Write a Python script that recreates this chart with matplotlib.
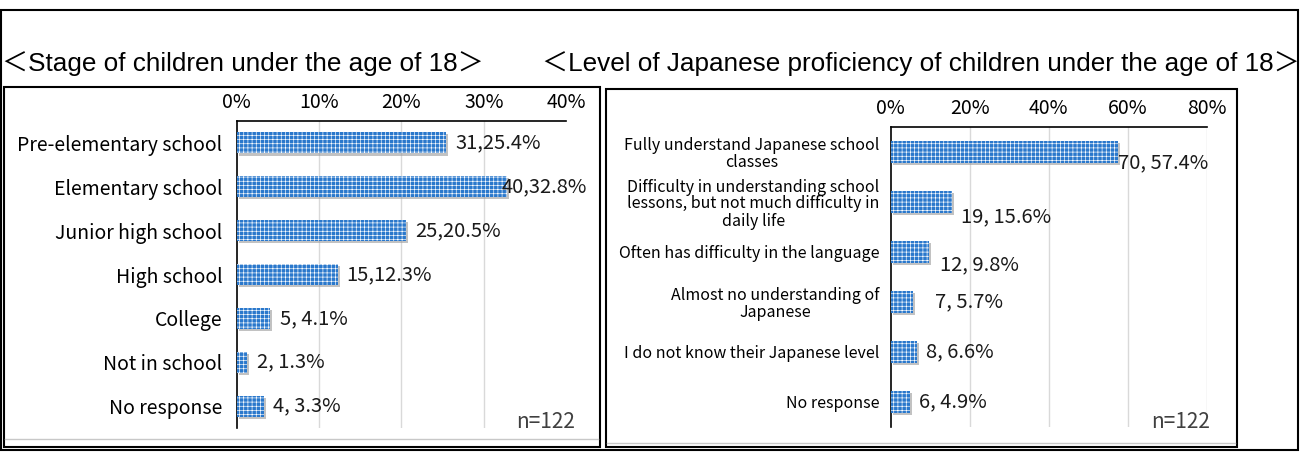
import matplotlib
matplotlib.use('Agg')
import matplotlib.pyplot as plt
from matplotlib.patches import Rectangle
from matplotlib.lines import Line2D
from matplotlib.transforms import offset_copy

plt.rcParams['font.family'] = ['Noto Sans CJK JP', 'DejaVu Sans']
plt.rcParams['hatch.color'] = 'white'
plt.rcParams['hatch.linewidth'] = 0.45

# data
stage_cats = ['Pre-elementary school', 'Elementary school', 'Junior high school',
              'High school', 'College', 'Not in school', 'No response']
stage_counts = [31, 40, 25, 15, 5, 2, 4]
stage_pct = [25.4, 32.8, 20.5, 12.3, 4.1, 1.3, 3.3]
stage_ticks = [0, 10, 20, 30, 40]

level_cats = ['Fully understand Japanese school\nclasses',
              'Difficulty in understanding school\nlessons, but not much difficulty in\ndaily life',
              'Often has difficulty in the language',
              'Almost no understanding of\nJapanese',
              'I do not know their Japanese level',
              'No response']
level_counts = [70, 19, 12, 7, 8, 6]
level_pct = [57.4, 15.6, 9.8, 5.7, 6.6, 4.9]
level_ticks = [0, 20, 40, 60, 80]

n_text = 'n=122'
title_left = '＜Stage of children under the age of 18＞'
title_right = '＜Level of Japanese proficiency of children under the age of 18＞'

# label nudges (points), as placed in the original
stage_dx = [7, -4, 7, 6, 7, 7, 7]
level_dx = [0, 6, 8, 16, 6.5, 6.5]
level_dy = [-8, -11, -9, 0, 0, 0]

W, H = 1303, 453
fig = plt.figure(figsize=(W / 100, H / 100), dpi=100)

def fx(x):
    return x / W

def fy(y):
    return 1 - y / H

def add_box(x0, y0, x1, y1, lw=1.5, color='black'):
    fig.patches.append(Rectangle((fx(x0), fy(y1)), fx(x1) - fx(x0), fy(y0) - fy(y1),
                                 transform=fig.transFigure, fill=False, lw=lw,
                                 edgecolor=color, zorder=0))

# frames
add_box(1, 10, 1298, 450)
add_box(4, 87, 600, 447)
add_box(606, 89, 1237, 447)
fig.lines.append(Line2D([fx(5), fx(598)], [fy(439), fy(439)], transform=fig.transFigure,
                        color='#c8c8c8', lw=1))
fig.lines.append(Line2D([fx(607), fx(1235)], [fy(443), fy(443)], transform=fig.transFigure,
                        color='#c8c8c8', lw=1))

tfam = ['Liberation Sans Narrow', 'Liberation Sans', 'Noto Sans CJK JP']
fig.text(fx(2), fy(64), title_left, fontsize=18.8, family=tfam, ha='left', va='center')
fig.text(fx(1300), fy(64), title_right, fontsize=18.8, family=tfam, ha='right', va='center')


def draw_bars(ax, cats, counts, pct, ticks, grid_ticks, height, fmt, dx, dy, cat_size, pad):
    y = list(range(len(cats)))
    shadow = offset_copy(ax.transData, fig=fig, x=1.5, y=-1.5, units='points')
    ax.barh(y, pct, height=height, color='#9a9a9a', alpha=0.6, transform=shadow, zorder=2)
    ax.barh(y, pct, height=height, color='#2a78cc', hatch='++++', edgecolor='white',
            linewidth=0, zorder=3)
    for i in y:
        ax.annotate(fmt.format(counts[i], pct[i]), xy=(pct[i], i), xytext=(dx[i], dy[i]),
                    textcoords='offset points', va='center', ha='left', fontsize=14.5,
                    color='#1a1a1a', zorder=4)
    for t in grid_ticks:
        ax.axvline(t, color='#d9d9d9', lw=1, zorder=1)
    ax.set_xlim(ticks[0], ticks[-1])
    ax.set_ylim(len(cats) - 0.5, -0.5)
    ax.xaxis.tick_top()
    ax.set_xticks(ticks)
    ax.set_xticklabels([f'{t}%' for t in ticks], fontsize=14)
    ax.set_yticks(y)
    ax.set_yticklabels(cats, fontsize=cat_size)
    for lab in ax.get_yticklabels():
        lab.set_multialignment('center')
        lab.set_linespacing(1.0)
    ax.tick_params(axis='both', length=0)
    ax.tick_params(axis='x', pad=6)
    ax.tick_params(axis='y', pad=pad)
    for s in ['right', 'bottom']:
        ax.spines[s].set_visible(False)
    ax.spines['top'].set_linewidth(1.2)
    ax.spines['left'].set_linewidth(1.2)


ax1 = fig.add_axes([fx(236.5), fy(428), fx(566.4) - fx(236.5), fy(121) - fy(428)])
draw_bars(ax1, stage_cats, stage_counts, stage_pct, stage_ticks, [10, 20, 30], 0.48,
          '{},{:4.1f}%', stage_dx, [0] * len(stage_cats), 14, 10)

ax2 = fig.add_axes([fx(890.5), fy(427), fx(1207) - fx(890.5), fy(127) - fy(427)])
draw_bars(ax2, level_cats, level_counts, level_pct, level_ticks, [20, 40, 60, 80], 0.45,
          '{}, {}%', level_dx, level_dy, 11.5, 8)

fig.text(fx(575), fy(422), n_text, fontsize=15, color='#404040', ha='right', va='center')
fig.text(fx(1210), fy(422), n_text, fontsize=15, color='#404040', ha='right', va='center')

fig.savefig('out.png', dpi=100)
